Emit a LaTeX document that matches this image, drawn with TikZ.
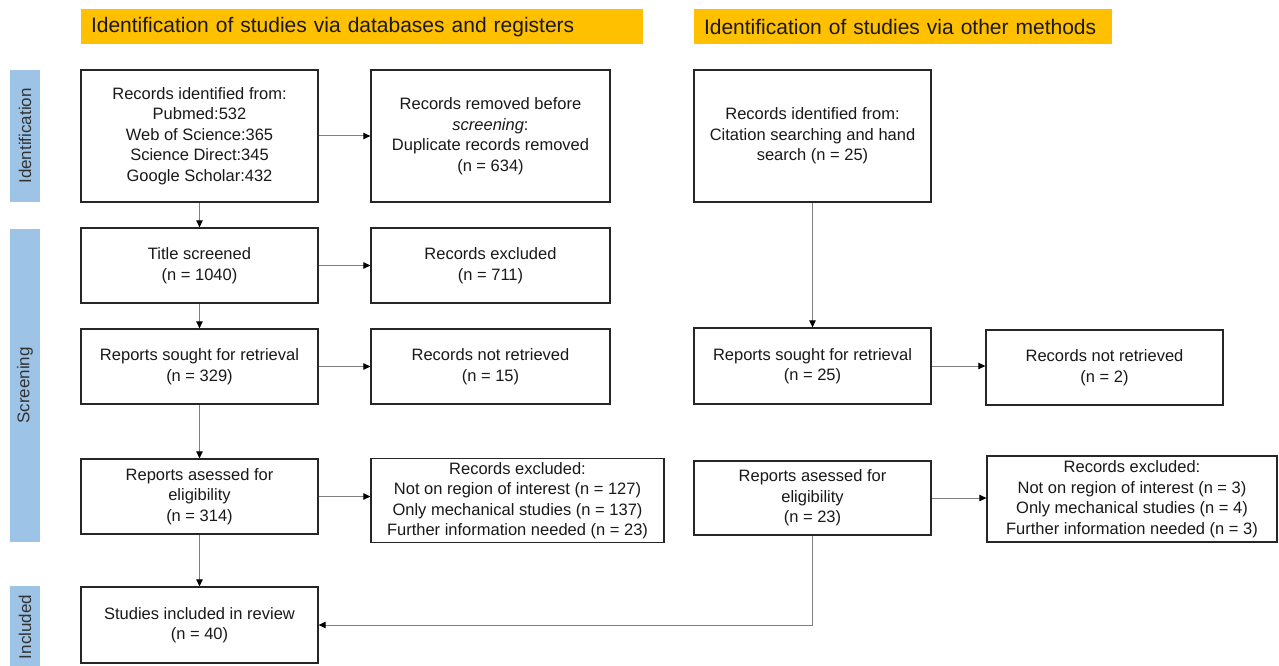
\documentclass[tikz,border=0pt]{standalone}
\usepackage{fontspec}
\setmainfont{Liberation Sans}
\usetikzlibrary{arrows.meta}
\definecolor{hdr}{HTML}{FFC000}
\definecolor{sidebar}{HTML}{9DC3E6}
\definecolor{conn}{HTML}{7F7F7F}
\definecolor{boxline}{HTML}{262626}
\newcommand{\myhdrfont}{\fontsize{21}{24}\selectfont\spaceskip=7.5pt plus 1pt\relax}
\begin{document}
\begin{tikzpicture}[x=1pt,y=-1pt,
  flowbox/.style={draw=boxline, line width=1.3pt, fill=white, align=center, inner sep=0pt,
    font=\fontsize{16.5}{20.5}\selectfont, text=black!90},
  hdrbox/.style={fill=hdr, minimum height=35pt, inner xsep=10pt, inner ysep=0pt, align=left,
    font=\myhdrfont, text=black!90},
  sidebox/.style={fill=sidebar, rotate=90, minimum height=30pt, inner sep=0pt,
    font=\fontsize{17}{19}\selectfont, text=black!80},
  conline/.style={draw=conn, line width=1pt, -{Triangle[length=7pt,width=6.5pt,color=black]}}
]
\useasboundingbox (0,0) rectangle (1279,666);

% headers
\node[hdrbox, text width=542pt] (h1) at (362,27) {Identification of studies via databases and registers};
\node[hdrbox, text width=398pt] (h2) at (903,27) {Identification of studies via other methods};

% side bars
\node[sidebox, minimum width=132pt] (s1) at (25,136) {Identification};
\node[sidebox, minimum width=313pt] (s2) at (25,385.5) {Screening};
\node[sidebox, minimum width=82pt] (s3) at (25,627) {Included};

% left column
\node[flowbox, minimum width=237pt, minimum height=132pt] (a1) at (199.5,136)
  {Records identified from:\\Pubmed:532\\Web of Science:365\\Science Direct:345\\Google Scholar:432};
\node[flowbox, minimum width=239pt, minimum height=132pt] (a2) at (490.5,136)
  {Records removed before\\\textit{screening}:\\Duplicate records removed\\(n = 634)};
\node[flowbox, minimum width=237pt, minimum height=75pt] (b1) at (199.5,265.5)
  {Title screened\\(n = 1040)};
\node[flowbox, minimum width=239pt, minimum height=75pt] (b2) at (490.5,265.5)
  {Records excluded\\(n = 711)};
\node[flowbox, minimum width=237pt, minimum height=75pt] (c1) at (199.5,366.5)
  {Reports sought for retrieval\\(n = 329)};
\node[flowbox, minimum width=239pt, minimum height=75pt] (c2) at (490.5,366.5)
  {Records not retrieved\\(n = 15)};
\node[flowbox, minimum width=237pt, minimum height=75pt] (d1) at (199.5,496.5)
  {Reports asessed for\\eligibility\\(n = 314)};
\node[flowbox, minimum width=293pt, minimum height=84pt] (d2) at (517.5,500.5)
  {Records excluded:\\Not on region of interest (n = 127)\\Only mechanical studies (n = 137)\\Further information needed (n = 23)};
\node[flowbox, minimum width=237pt, minimum height=76pt] (e1) at (199.5,625)
  {Studies included in review\\(n = 40)};

% right column
\node[flowbox, minimum width=237pt, minimum height=132pt] (r1) at (812.5,136)
  {Records identified from:\\Citation searching and hand\\search (n = 25)};
\node[flowbox, minimum width=237pt, minimum height=76pt] (r2) at (812.5,366)
  {Reports sought for retrieval\\(n = 25)};
\node[flowbox, minimum width=237pt, minimum height=75pt] (r3) at (1104.5,367.5)
  {Records not retrieved\\(n = 2)};
\node[flowbox, minimum width=237pt, minimum height=74pt] (r4) at (812.5,498)
  {Reports asessed for\\eligibility\\(n = 23)};
\node[flowbox, minimum width=290pt, minimum height=86pt] (r5) at (1132,499)
  {Records excluded:\\Not on region of interest (n = 3)\\Only mechanical studies (n = 4)\\Further information needed (n = 3)};

% connectors
\draw[conline] (a1) -- (b1);
\draw[conline] (b1) -- (c1);
\draw[conline] (c1) -- (d1);
\draw[conline] (d1) -- (e1);
\draw[conline] (a1) -- (a2);
\draw[conline] (b1) -- (b2);
\draw[conline] (c1) -- (c2);
\draw[conline] (d1.east) -- (d1.east -| d2.west);
\draw[conline] (r1) -- (r2);
\draw[conline] (r2.east) -- (r2.east -| r3.west);
\draw[conline] (r4.east) -- (r4.east -| r5.west);
\draw[conline] (r4.south) |- (e1.east);
\end{tikzpicture}
\end{document}
